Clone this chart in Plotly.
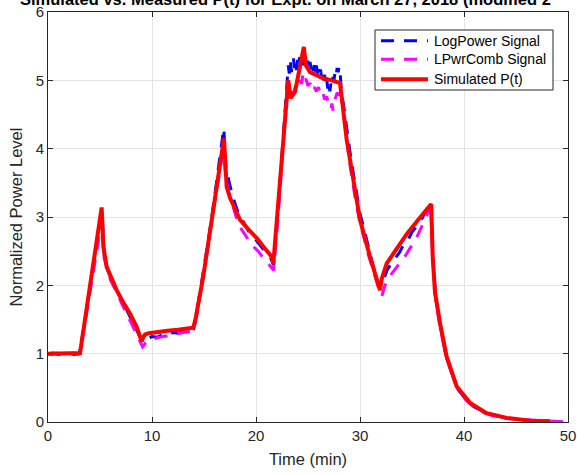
import plotly.graph_objects as go

# Measured LogPower signal
log_t = [0.0, 0.5, 1.0, 1.5, 2.0, 2.5, 3.0, 3.5, 4.0, 4.5, 5.0, 5.2, 5.4, 5.7, 6.0, 6.5, 7.0, 7.5, 8.0, 8.5,
         9.0, 9.3, 9.6, 10.0, 10.5, 11.0, 11.5, 12.0, 12.5, 13.0, 13.5, 14.0, 14.3, 14.8, 15.3, 15.8, 16.3,
         16.7, 16.9, 17.1, 17.4, 17.8, 18.2, 18.6, 19.0, 19.4, 19.8, 20.2, 20.6, 21.0, 21.4, 21.7, 22.1,
         22.5, 22.8, 23.0, 23.1, 23.2, 23.3, 23.4, 23.5, 23.6, 23.7, 23.8, 23.9, 24.0, 24.1, 24.2, 24.3,
         24.4, 24.5, 24.6, 24.7, 24.8, 24.9, 25.0, 25.1, 25.2, 25.3, 25.4, 25.5, 25.6, 25.7, 25.8, 25.9,
         26.0, 26.1, 26.2, 26.3, 26.4, 26.5, 26.6, 26.7, 26.8, 26.9, 27.0, 27.1, 27.2, 27.3, 27.4, 27.5,
         27.6, 27.7, 27.8, 27.9, 28.0, 28.1, 28.2, 28.5, 28.8, 29.1, 29.4, 29.7, 30.0, 30.4, 30.8, 31.2,
         31.6, 31.9, 32.2, 32.6, 33.0, 33.4, 33.8, 34.2, 34.6, 35.0, 35.4, 35.8, 36.2, 36.6, 36.8, 37.0,
         37.3, 37.7, 38.2, 38.8, 39.5, 40.2, 41.0, 42.0, 43.0, 44.0, 45.0, 46.0, 47.0, 48.3]
log_v = [1.00, 1.01, 0.99, 1.00, 1.01, 0.99, 1.00, 1.42, 1.90, 2.36, 2.88, 3.08, 2.45, 2.25, 2.12, 1.97,
         1.80, 1.66, 1.52, 1.36, 1.20, 1.18, 1.22, 1.25, 1.24, 1.28, 1.27, 1.31, 1.30, 1.33, 1.34, 1.36,
         1.60, 2.05, 2.55, 3.05, 3.60, 4.05, 4.30, 3.75, 3.52, 3.28, 3.10, 2.98, 2.88, 2.76, 2.70, 2.62,
         2.55, 2.47, 2.40, 2.30, 3.05, 3.95, 4.65, 5.05, 5.22, 5.10, 5.28, 5.12, 5.25, 5.32, 5.18, 5.27,
         5.15, 5.30, 5.22, 5.34, 5.25, 5.36, 5.22, 5.30, 5.20, 5.28, 5.18, 5.30, 5.20, 5.27, 5.16, 5.25,
         5.14, 5.22, 5.12, 5.24, 5.10, 5.18, 5.08, 5.16, 5.05, 5.12, 5.00, 5.08, 4.92, 5.02, 4.88, 4.98,
         4.84, 4.95, 4.90, 5.05, 5.00, 5.12, 5.06, 5.18, 5.12, 5.20, 5.10, 4.85, 4.55, 4.20, 3.88, 3.60,
         3.32, 3.05, 2.82, 2.55, 2.32, 2.10, 1.95, 2.05, 2.22, 2.32, 2.40, 2.48, 2.60, 2.66, 2.78, 2.85,
         2.93, 3.05, 3.18, 3.20, 2.40, 1.80, 1.42, 1.02, 0.72, 0.46, 0.33, 0.22, 0.14, 0.09, 0.06, 0.04,
         0.03, 0.02, 0.01]

# Measured LPwrComb signal
comb_t = [0.0, 0.4, 0.8, 1.2, 1.6, 2.0, 2.4, 2.8, 3.1, 3.5, 4.0, 4.5, 5.0, 5.2, 5.4, 5.7, 6.0, 6.5, 7.0,
          7.5, 8.0, 8.5, 8.8, 9.1, 9.4, 9.8, 10.2, 10.6, 11.0, 11.5, 12.0, 12.5, 13.0, 13.5, 14.0, 14.3,
          14.8, 15.3, 15.8, 16.3, 16.7, 16.9, 17.1, 17.4, 17.8, 18.2, 18.6, 19.0, 19.4, 19.8, 20.2, 20.6,
          21.0, 21.4, 21.7, 22.1, 22.5, 22.8, 23.0, 23.2, 23.4, 23.6, 23.8, 24.0, 24.2, 24.4, 24.5, 24.6,
          24.8, 25.0, 25.2, 25.4, 25.6, 25.8, 26.0, 26.2, 26.4, 26.6, 26.8, 27.0, 27.2, 27.3, 27.4, 27.6,
          27.8, 28.0, 28.1, 28.4, 28.7, 29.0, 29.3, 29.6, 30.0, 30.4, 30.8, 31.2, 31.6, 32.0, 32.1, 32.4,
          32.8, 33.2, 33.6, 34.0, 34.4, 34.8, 35.2, 35.6, 36.0, 36.3, 36.6, 36.8, 37.0, 37.3, 37.7, 38.2,
          38.8, 39.5, 40.2, 41.0, 42.0, 43.0, 44.0, 45.0, 46.0, 47.0, 48.4, 49.9]
comb_v = [1.00, 0.99, 1.01, 1.00, 0.99, 1.00, 1.01, 0.99, 1.00, 1.40, 1.88, 2.33, 2.82, 2.98, 2.40, 2.22,
          2.08, 1.93, 1.76, 1.60, 1.45, 1.28, 1.18, 1.10, 1.16, 1.20, 1.22, 1.24, 1.25, 1.26, 1.28, 1.29,
          1.31, 1.32, 1.34, 1.55, 2.00, 2.50, 3.00, 3.50, 3.85, 3.95, 3.55, 3.35, 3.15, 2.95, 2.82, 2.72,
          2.64, 2.56, 2.50, 2.42, 2.35, 2.28, 2.22, 2.95, 3.85, 4.55, 4.90, 4.78, 4.86, 4.80, 4.92, 4.88,
          5.00, 4.95, 5.08, 4.98, 5.02, 4.92, 4.96, 4.85, 4.90, 4.84, 4.90, 4.80, 4.84, 4.72, 4.76, 4.64,
          4.58, 4.66, 4.56, 4.72, 4.82, 4.78, 4.88, 4.55, 4.15, 3.80, 3.50, 3.22, 2.92, 2.68, 2.45, 2.25,
          2.05, 1.86, 1.84, 2.00, 2.12, 2.20, 2.27, 2.35, 2.44, 2.54, 2.63, 2.75, 2.88, 3.00, 3.10, 3.15,
          2.38, 1.76, 1.40, 1.00, 0.70, 0.45, 0.32, 0.21, 0.13, 0.08, 0.05, 0.04, 0.03, 0.02, 0.01, 0.00]

# Simulated P(t)
sim_t = [0.0, 3.08, 5.16, 5.32, 5.64, 6.0, 6.6, 7.2, 7.88, 8.5, 9.01, 9.15, 9.33, 9.7, 10.5, 11.5, 12.5,
         13.3, 13.97, 14.2, 14.93, 16.92, 17.05, 17.18, 17.5, 18.0, 18.46, 19.2, 20.07, 20.8, 21.5, 21.66,
         23.1, 23.34, 23.75, 24.6, 24.8, 25.19, 25.8, 26.47, 27.3, 28.08, 28.72, 29.36, 30.0, 30.96, 31.5,
         31.92, 32.1, 32.3, 32.57, 33.5, 34.49, 35.6, 36.73, 36.85, 36.99, 37.21, 37.69, 38.33, 39.3,
         40.58, 42.18, 44.1, 46.35, 48.27]
sim_v = [1.00, 1.01, 3.14, 2.57, 2.27, 2.13, 1.93, 1.76, 1.59, 1.40, 1.18, 1.24, 1.28, 1.30, 1.32, 1.335,
         1.35, 1.36, 1.38, 1.52, 2.13, 4.15, 3.70, 3.44, 3.28, 3.10, 2.96, 2.83, 2.69, 2.55, 2.42, 2.31,
         5.00, 4.74, 4.83, 5.49, 5.22, 5.12, 5.07, 5.03, 5.00, 4.96, 4.13, 3.54, 2.96, 2.42, 2.15, 1.93,
         2.10, 2.20, 2.32, 2.53, 2.75, 2.96, 3.18, 3.19, 2.42, 1.90, 1.45, 0.96, 0.52, 0.28, 0.13, 0.06,
         0.02, 0.01]

x_ticks = [0, 10, 20, 30, 40, 50]
y_ticks = [0, 1, 2, 3, 4, 5, 6]

series_names = ["LogPower Signal", "LPwrComb Signal", "Simulated P(t)"]
series_colors = ["#0000FF", "#FF00FF", "#FF0000"]
series_dash = ["13px,10px", "13px,10px", "solid"]
series_width = [3, 3, 4]

FONT = "Arial, 'Liberation Sans', Helvetica, sans-serif"
INK = "#262626"

fig = go.Figure()
for xs, ys, name, color, dash, w in zip(
        [log_t, comb_t, sim_t], [log_v, comb_v, sim_v],
        series_names, series_colors, series_dash, series_width):
    fig.add_trace(go.Scatter(x=xs, y=ys, mode="lines", name=name, showlegend=False,
                             line=dict(color=color, width=w, dash=dash if dash != "solid" else None)))

axis_common = dict(
    showline=True, linecolor=INK, linewidth=1, mirror="ticks",
    ticks="inside", ticklen=5, tickcolor=INK, tickwidth=1,
    showgrid=True, gridcolor="#e3e3e3", gridwidth=1,
    zeroline=False, automargin=False,
    tickfont=dict(family=FONT, size=15, color=INK),
)

# Legend box drawn in paper coordinates (plot area: 520 x 410 px)
W, H = 520.0, 410.0
def px(x):
    return (x - 48) / W
def py(y):
    return (422 - y) / H

shapes = [dict(type="rect", xref="paper", yref="paper",
               x0=px(375), x1=px(553), y0=py(90), y1=py(30),
               line=dict(color=INK, width=1), fillcolor="white", layer="above")]
annotations = []
row_y = [40.7, 59.3, 79.3]
for name, color, dash, w, ry in zip(series_names, series_colors, series_dash, series_width, row_y):
    shapes.append(dict(type="line", xref="paper", yref="paper",
                       x0=px(381), x1=px(428), y0=py(ry), y1=py(ry),
                       line=dict(color=color, width=w, dash=dash), layer="above"))
    annotations.append(dict(text=name, xref="paper", yref="paper", x=px(432), y=py(ry),
                            xanchor="left", yanchor="middle", showarrow=False,
                            font=dict(family=FONT, size=14, color="#000000")))

annotations.append(dict(
    text="<b>Simulated vs. Measured P(t) for Expt. on March 27, 2018 (modified 2</b>",
    xref="paper", yref="paper", x=px(18), y=1.0325, xanchor="left", yanchor="middle",
    showarrow=False, font=dict(family=FONT, size=16.5, color="#000000")))

fig.update_layout(
    width=577, height=475,
    margin=dict(l=48, r=9, t=12, b=53),
    paper_bgcolor="white", plot_bgcolor="white",
    font=dict(family=FONT, color=INK),
    xaxis=dict(range=[0, 50], tickvals=x_ticks, **axis_common,
               title=dict(text="Time (min)", font=dict(family=FONT, size=16.5, color=INK), standoff=10)),
    yaxis=dict(range=[0, 6], tickvals=y_ticks, **axis_common,
               title=dict(text="Normalized Power Level", font=dict(family=FONT, size=16.5, color=INK), standoff=8)),
    showlegend=False,
    shapes=shapes,
    annotations=annotations,
)

fig.write_html("out.html")
